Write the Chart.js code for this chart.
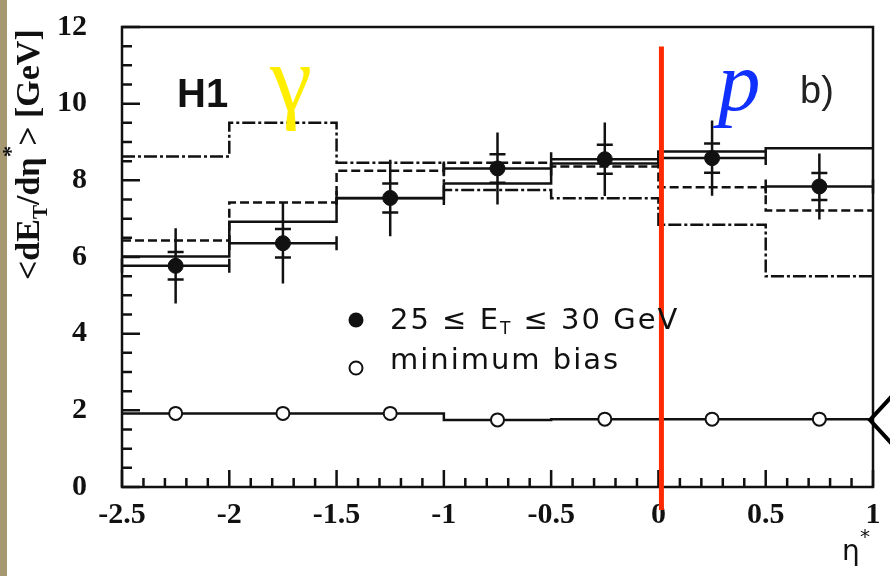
<!DOCTYPE html>
<html>
<head>
<meta charset="utf-8">
<script src="https://cdn.jsdelivr.net/npm/chart.js@4"></script>
<style>
  html, body { margin: 0; padding: 0; background: #fff; }
</style>
</head>
<body>
<canvas id="EtFlow" width="890" height="576"></canvas>
<script>
// eta* bins
const binEdges = [-2.5, -2, -1.5, -1, -0.5, 0, 0.5, 1];
const binCentres = [-2.25, -1.75, -1.25, -0.75, -0.25, 0.25, 0.75];

// 25 <= E_T <= 30 GeV sample, with stat and total errors
const dataEt = [5.77, 6.36, 7.54, 8.31, 8.55, 8.58, 7.84];
const statErr = [0.36, 0.37, 0.38, 0.37, 0.38, 0.38, 0.35];
const totErr = [0.98, 1.05, 1.0, 0.94, 0.96, 0.98, 0.86];

// minimum bias sample
const minBias = [1.92, 1.92, 1.92, 1.75, 1.77, 1.77, 1.77];

// model predictions per bin
const modelSolid = [6.01, 6.92, 7.53, 7.92, 8.44, 8.75, 8.84];
const modelDashed = [6.43, 7.42, 8.25, 8.46, 8.36, 7.82, 7.21];
const modelDashDot = [8.62, 9.50, 8.46, 7.75, 7.53, 6.84, 5.50];

// vertical marker line (eta*, top, bottom)
const markerX = 0.014;
const markerY = [11.49, -0.6];

const yTicks = [0, 2, 4, 6, 8, 10, 12];
const xTicks = [-2.5, -2, -1.5, -1, -0.5, 0, 0.5, 1];

let ink = '#111';

// histogram as step points on the bin edges
function steps(vals) {
    return binEdges.map((x, i) => ({ x: x, y: vals[Math.min(i, vals.length - 1)] }));
}
function points(vals) {
    return binCentres.map((x, i) => ({ x: x, y: vals[i] }));
}

// draws a run of text pieces one after another along the baseline
function richText(ctx, pieces, x, y) {
    pieces.forEach(p => {
        ctx.font = p.font;
        ctx.fillText(p.t, x, y + (p.dy || 0));
        x += ctx.measureText(p.t).width;
    });
}

const frame = {
    id: 'frame',
    beforeDraw(chart) {
        const ctx = chart.ctx;
        ctx.save();
        ctx.fillStyle = '#fff';
        ctx.fillRect(0, 0, chart.width, chart.height);
        ctx.fillStyle = '#a69870';
        ctx.fillRect(0, 0, 7, chart.height);
        ctx.restore();
    },
    beforeDatasetsDraw(chart) {
        const ctx = chart.ctx;
        const a = chart.chartArea;
        const xs = chart.scales.x, ys = chart.scales.y;
        ctx.save();
        ctx.strokeStyle = ink;
        ctx.lineWidth = 2.5;
        ctx.strokeRect(a.left, a.top, a.right - a.left, a.bottom - a.top);

        // inward ticks: y every 0.5, x every 0.1
        ctx.beginPath();
        for (let k = 0; k <= 24; k++) {
            const py = ys.getPixelForValue(k * 0.5);
            ctx.moveTo(a.left, py);
            ctx.lineTo(a.left + (k % 4 === 0 ? 18 : 10), py);
        }
        for (let k = 0; k <= 35; k++) {
            const px = xs.getPixelForValue(-2.5 + k * 0.1);
            ctx.moveTo(px, a.bottom);
            ctx.lineTo(px, a.bottom - (k % 5 === 0 ? 17 : 9));
        }
        ctx.stroke();

        // error bars of the E_T sample
        ctx.lineWidth = 2.5;
        ctx.beginPath();
        binCentres.forEach((c, i) => {
            const px = xs.getPixelForValue(c);
            const py = ys.getPixelForValue(dataEt[i]);
            const top = ys.getPixelForValue(dataEt[i] + totErr[i]);
            const bot = ys.getPixelForValue(dataEt[i] - totErr[i]);
            const sTop = ys.getPixelForValue(dataEt[i] + statErr[i]);
            const sBot = ys.getPixelForValue(dataEt[i] - statErr[i]);
            ctx.moveTo(px, top); ctx.lineTo(px, bot);
            ctx.moveTo(px - 8, sTop); ctx.lineTo(px + 8, sTop);
            ctx.moveTo(px - 8, sBot); ctx.lineTo(px + 8, sBot);
            const xl = xs.getPixelForValue(binEdges[i]);
            const xr = xs.getPixelForValue(binEdges[i + 1]);
            ctx.moveTo(xl, py); ctx.lineTo(xr, py);
            ctx.moveTo(xl, py - 7); ctx.lineTo(xl, py + 7);
            ctx.moveTo(xr, py - 7); ctx.lineTo(xr, py + 7);
        });
        ctx.stroke();
        ctx.restore();
    },
    afterDraw(chart) {
        const ctx = chart.ctx;
        ctx.save();
        ctx.fillStyle = ink;
        ctx.textBaseline = 'alphabetic';

        // y axis title, rotated
        ctx.save();
        ctx.translate(39, 280);
        ctx.rotate(-Math.PI / 2);
        const tf = 'bold 34px "Liberation Serif"';
        richText(ctx, [
            { t: '<dE', font: tf },
            { t: 'T', font: 'bold 21px "Liberation Serif"', dy: 8 },
            { t: '/d\u03b7', font: tf },
            { t: '*', font: 'bold 23px "Liberation Serif"', dy: -21 },
            { t: '> [GeV]', font: tf }
        ], 0, 0);
        ctx.restore();

        // x axis title
        ctx.font = '28px "DejaVu Sans"';
        ctx.fillText('\u03b7', 842, 560);
        ctx.font = '20px "DejaVu Sans"';
        ctx.fillText('*', 860, 543);

        // labels inside the frame
        ctx.font = 'bold 40px "Liberation Sans"';
        ctx.fillText('H1', 177, 107);
        ctx.fillStyle = '#ffee00';
        ctx.font = '95px "Liberation Serif"';
        ctx.fillText('\u03b3', 270, 111);
        ctx.fillStyle = '#1030ff';
        ctx.font = 'italic 85px "Liberation Serif"';
        ctx.fillText('p', 718, 110);
        ctx.fillStyle = '#222';
        ctx.font = '38px "Liberation Sans"';
        ctx.fillText('b)', 800, 103);

        // legend
        ctx.fillStyle = ink;
        ctx.beginPath();
        ctx.arc(356, 320, 7.5, 0, Math.PI * 2);
        ctx.fill();
        ctx.beginPath();
        ctx.arc(356, 368, 6.5, 0, Math.PI * 2);
        ctx.fillStyle = '#fff';
        ctx.fill();
        ctx.strokeStyle = ink;
        ctx.lineWidth = 2;
        ctx.stroke();
        ctx.fillStyle = ink;
        ctx.letterSpacing = '2px';
        const lf = '29px "DejaVu Sans"';
        richText(ctx, [
            { t: '25 \u2264 E', font: lf },
            { t: 'T', font: '17px "DejaVu Sans"', dy: 5 },
            { t: ' \u2264 30 GeV', font: lf }
        ], 390, 329);
        ctx.font = lf;
        ctx.fillText('minimum bias', 390, 369);
        ctx.letterSpacing = '0px';

        // arrow head on the right border
        ctx.strokeStyle = '#000';
        ctx.lineWidth = 4;
        ctx.beginPath();
        ctx.moveTo(892, 396);
        ctx.lineTo(870, 420);
        ctx.lineTo(892, 444);
        ctx.stroke();
        ctx.restore();
    }
};

function histSet(vals, dash, order) {
    return {
        data: steps(vals),
        borderColor: ink,
        borderWidth: 2.5,
        borderDash: dash,
        stepped: 'before',
        pointRadius: 0,
        fill: false,
        order: order
    };
}

const ctx = document.getElementById('EtFlow').getContext('2d');
const chart = new Chart(ctx, {
    type: 'line',
    data: {
        datasets: [
            {
                data: [{ x: markerX, y: markerY[0] }, { x: markerX, y: markerY[1] }],
                borderColor: '#ff2a00',
                borderWidth: 5,
                pointRadius: 0,
                clip: false,
                order: 0
            },
            {
                data: points(dataEt),
                showLine: false,
                pointRadius: 7.5,
                pointBackgroundColor: ink,
                pointBorderColor: ink,
                order: 1
            },
            {
                data: points(minBias),
                showLine: false,
                pointRadius: 6.5,
                pointBorderWidth: 2,
                pointBackgroundColor: '#fff',
                pointBorderColor: ink,
                order: 2
            },
            histSet(minBias, [], 3),
            histSet(modelSolid, [], 4),
            histSet(modelDashed, [9, 4], 5),
            histSet(modelDashDot, [13, 3, 3, 3], 6)
        ]
    },
    options: {
        responsive: false,
        animation: false,
        layout: { padding: { left: 0, top: 27, right: 17, bottom: 0 } },
        plugins: { legend: { display: false }, tooltip: { enabled: false } },
        scales: {
            x: {
                type: 'linear',
                min: -2.5,
                max: 1,
                afterFit: s => { s.height = 89; s.paddingLeft = 0; s.paddingRight = 0; },
                afterBuildTicks: s => { s.ticks = xTicks.map(v => ({ value: v })); },
                grid: { display: false, drawTicks: false },
                border: { display: false },
                ticks: {
                    autoSkip: false,
                    maxRotation: 0,
                    padding: 10,
                    color: ink,
                    font: { family: 'Liberation Serif', size: 30, weight: 'bold' },
                    callback: v => String(v)
                }
            },
            y: {
                min: 0,
                max: 12,
                afterFit: s => { s.width = 122; s.paddingTop = 0; s.paddingBottom = 0; },
                afterBuildTicks: s => { s.ticks = yTicks.map(v => ({ value: v })); },
                grid: { display: false, drawTicks: false },
                border: { display: false },
                ticks: {
                    padding: 35,
                    color: ink,
                    font: { family: 'Liberation Serif', size: 30, weight: 'bold' },
                    callback: v => String(v)
                }
            }
        }
    },
    plugins: [frame]
});
</script>
</body>
</html>
